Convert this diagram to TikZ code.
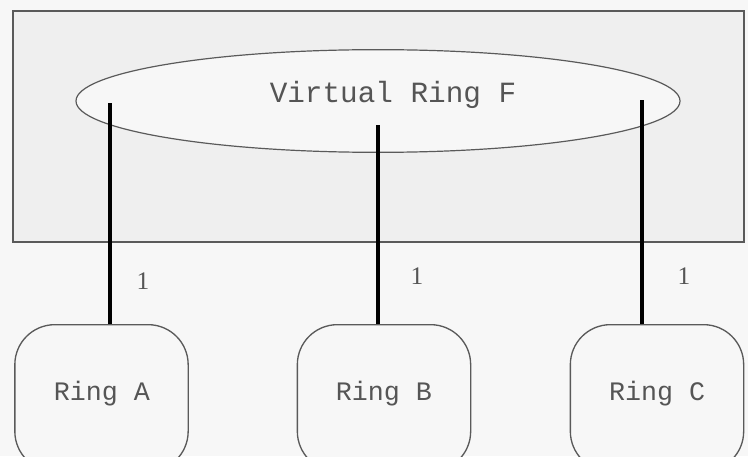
\documentclass[tikz,border=0pt]{standalone}
\usepackage{fontspec}
\setmonofont{Liberation Mono}
\setmainfont{Liberation Serif}
\usetikzlibrary{shapes.geometric}
\definecolor{pagegray}{HTML}{F7F7F7}
\definecolor{boxgray}{HTML}{EFEFEF}
\definecolor{edgegray}{HTML}{5A5A5A}
\definecolor{textgray}{HTML}{555555}
\tikzset{
  ringbox/.style={draw=edgegray, line width=1pt, rounded corners=30pt, fill=pagegray,
                  minimum width=130pt, minimum height=110pt, anchor=north,
                  font=\ttfamily\fontsize{20}{22}\selectfont, text=textgray},
  link/.style={line width=3.6pt, black},
  linklabel/.style={font=\rmfamily\fontsize{19}{21}\selectfont, text=textgray}
}
\begin{document}
\begin{tikzpicture}  % ------ virtual ring over three rings -----------------------------
      [x=0.75pt, y=-0.75pt]

    \path [fill=pagegray, use as bounding box] (0,0) rectangle (748,456);
    \clip (0,0) rectangle (748,456);

    % the grey frame and the virtual ring
    \draw [draw=edgegray, line width=1pt, fill=boxgray] (13,11) rectangle (744,242);
    \node (ringF) [draw=edgegray, line width=0.9pt, fill=pagegray, ellipse,
                   minimum width=453pt, minimum height=77pt, inner sep=0pt] at (378,101) {};
    \node (labelF) [font=\ttfamily\fontsize{22}{24}\selectfont, text=textgray] at (393,95) {Virtual Ring F};

    % the three rings
    \node (ringA) [ringbox] at (101.5,324) {};
    \node (ringB) [ringbox] at (384,324) {};
    \node (ringC) [ringbox] at (657,324) {};
    \node (nameA) [font=\ttfamily\fontsize{20}{22}\selectfont, text=textgray] at (102,394) {Ring A};
    \node (nameB) [font=\ttfamily\fontsize{20}{22}\selectfont, text=textgray] at (384,394) {Ring B};
    \node (nameC) [font=\ttfamily\fontsize{20}{22}\selectfont, text=textgray] at (657,394) {Ring C};

    \coordinate (topA) at (110,103);
    \coordinate (topB) at (378,125);
    \coordinate (topC) at (642,100);

    \draw [link] (ringA.north -| topA) -- (topA);
    \draw [link] (ringB.north -| topB) -- (topB);
    \draw [link] (ringC.north -| topC) -- (topC);

    \node (oneA) [linklabel] at (143,281) {1};
    \node (oneB) [linklabel] at (417,276) {1};
    \node (oneC) [linklabel] at (684,276) {1};

\end{tikzpicture}
\end{document}
